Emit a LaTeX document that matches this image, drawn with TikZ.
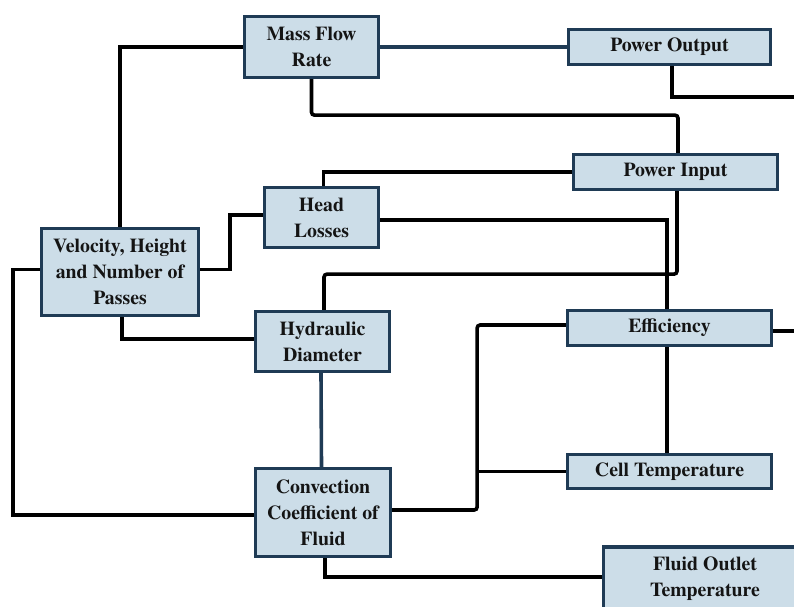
\documentclass[tikz,border=0pt]{standalone}
\usepackage{fontspec}
\setmainfont{texgyretermes}[Extension=.otf, UprightFont=*-regular, BoldFont=*-bold, ItalicFont=*-italic, BoldItalicFont=*-bolditalic]
\definecolor{boxfill}{HTML}{CCDDE8}
\definecolor{boxline}{HTML}{1F3B55}
\begin{document}
\begin{tikzpicture}[x=1pt,y=-1pt,
  box/.style={draw=boxline, fill=boxfill, line width=3.3pt, rectangle, inner sep=0pt,
    align=center, font=\bfseries\fontsize{19.8}{26}\selectfont, text=black!92},
  conn/.style={line width=3.6pt, black},
  navyconn/.style={line width=3.6pt, boxline}]
\useasboundingbox (0,0) rectangle (794,606);
\clip (0,0) rectangle (794,606);
\node[box, minimum width=134pt, minimum height=61pt] (mass) at (311.5,47) {Mass Flow\\Rate};
\node[box, minimum width=202pt, minimum height=35pt] (pout) at (669.5,47) {Power Output};
\node[box, minimum width=204pt, minimum height=35pt] (pin) at (675.5,172) {Power Input};
\node[box, minimum width=114pt, minimum height=60pt] (head) at (321.5,217.5) {Head\\Losses};
\node[box, minimum width=157pt, minimum height=87pt] (vel) at (120,272) {Velocity, Height\\and Number of\\Passes};
\node[box, minimum width=134pt, minimum height=60pt] (hyd) at (322.5,341.5) {Hydraulic\\Diameter};
\node[box, minimum width=135pt, minimum height=88pt] (conv) at (323,512.5) {Convection\\Coefficient of\\Fluid};
\node[box, minimum width=204pt, minimum height=35pt] (eff) at (669.5,328) {Efficiency};
\node[box, minimum width=204pt, minimum height=34pt] (cell) at (669.5,471.5) {Cell Temperature};
\node[box, minimum width=203pt, minimum height=64pt] (fluid) at (705,579) {Fluid Outlet\\Temperature};
\coordinate (e1) at (800,97);

\draw[conn] (mass.west) -| (vel.north);
\draw[navyconn] (mass.east) -- (pout.west);
\draw[conn, rounded corners=3pt] (mass.south) -- ++(0,36) -| ([xshift=2.5pt]pin.north);
\draw[conn] ([xshift=2.5pt]pout.south) |- (e1);
\draw[conn] (pin.west) -| ([xshift=2pt]head.north);
\draw[conn] ([yshift=-2.5pt]head.east) -| ([xshift=-2.5pt]eff.north);
\draw[conn] ([xshift=-2.5pt]eff.south) -- ([xshift=-2.5pt]cell.north);
\draw[conn, rounded corners=3pt] ([xshift=1.5pt]pin.south) -- ++(0,83) -| ([xshift=1.5pt]hyd.north);
\draw[conn] ([yshift=2.5pt]vel.east) -- ++(30,0) |- ([yshift=2.5pt]head.west);
\draw[conn] ([yshift=2.5pt]vel.west) -- ++(-27,0) |- ([yshift=-2.5pt]conv.west);
\draw[conn] ([xshift=2pt]vel.south) |- ([yshift=2.5pt]hyd.west);
\draw[navyconn] ([xshift=-1.5pt]hyd.south) -- ([xshift=-1.5pt]conv.north);
\draw[conn, rounded corners=3pt] ([yshift=2.5pt]conv.east) -- ++(85,0) |- ([yshift=3pt]eff.west);
\draw[conn] (cell.west) -- ++(-89,0);
\draw[conn] ([xshift=2pt]conv.south) |- ([yshift=2pt]fluid.west);
\draw[conn] ([yshift=-3pt]eff.east) -- ++(30,0);
\end{tikzpicture}
\end{document}
